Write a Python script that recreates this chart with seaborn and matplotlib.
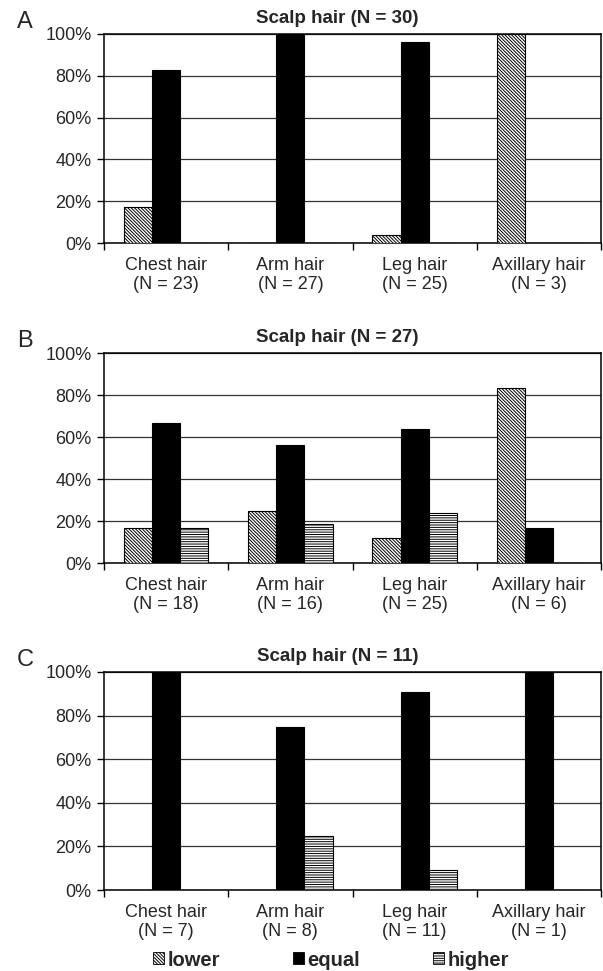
import pandas as pd
import matplotlib
matplotlib.use("Agg")
import matplotlib.pyplot as plt
import seaborn as sns
from matplotlib.patches import Patch

sns.set_theme(style="ticks")
plt.rcParams['font.family'] = ['Liberation Sans', 'DejaVu Sans']
plt.rcParams['hatch.color'] = 'black'
plt.rcParams['hatch.linewidth'] = 0.7

# data (percent of subjects)
categories = ['Chest hair', 'Arm hair', 'Leg hair', 'Axillary hair']
levels = ['lower', 'equal', 'higher']

n_A = [23, 27, 25, 3]
lower_A = [17.4, 0, 4.0, 100]
equal_A = [82.6, 100, 96.0, 0]
higher_A = [0, 0, 0, 0]

n_B = [18, 16, 25, 6]
lower_B = [16.7, 25.0, 12.0, 83.3]
equal_B = [66.7, 56.3, 64.0, 16.7]
higher_B = [16.7, 18.8, 24.0, 0]

n_C = [7, 8, 11, 1]
lower_C = [0, 0, 0, 0]
equal_C = [100, 75.0, 90.9, 100]
higher_C = [0, 25.0, 9.1, 0]

panels = [
    ('A', 'Scalp hair (N = 30)', n_A, lower_A, equal_A, higher_A),
    ('B', 'Scalp hair (N = 27)', n_B, lower_B, equal_B, higher_B),
    ('C', 'Scalp hair (N = 11)', n_C, lower_C, equal_C, higher_C),
]

colors = {'lower': 'white', 'equal': 'black', 'higher': 'white'}
hatches = {'lower': '\\' * 10, 'equal': '', 'higher': '-' * 7}

W, H = 603, 971
fig = plt.figure(figsize=(W / 100, H / 100), dpi=100)

# axes boxes in pixels: (top, bottom)
boxes = [(34, 243), (353, 563), (672, 890)]
left, right = 104, 601

for (letter, title, n, lo, eq, hi), (top, bot) in zip(panels, boxes):
    ax = fig.add_axes([left / W, (H - bot) / H, (right - left) / W, (bot - top) / H])
    rows = []
    for lev, vals in zip(levels, [lo, eq, hi]):
        for c, v in zip(categories, vals):
            rows.append({'cat': c, 'level': lev, 'value': v})
    df = pd.DataFrame(rows)
    sns.barplot(data=df, x='cat', y='value', hue='level', order=categories,
                hue_order=levels, palette=colors, saturation=1, width=0.68,
                edgecolor='black', linewidth=0.8, legend=False, ax=ax, zorder=3)
    for lev, cont in zip(levels, ax.containers):
        for bar in cont:
            bar.set_hatch(hatches[lev])

    ax.set_ylim(0, 100)
    ax.set_xlim(-0.5, 3.5)
    ax.set_yticks(range(0, 101, 20))
    ax.set_yticklabels([f'{v}%' for v in range(0, 101, 20)], fontsize=13)
    ax.set_xticks(range(4))
    ax.set_xticklabels([f'{c}\n(N = {k})' for c, k in zip(categories, n)], fontsize=13,
                       linespacing=1.15)
    ax.set_xticks([-0.5, 0.5, 1.5, 2.5, 3.5], minor=True)
    ax.tick_params(axis='x', which='major', length=0, pad=10)
    ax.tick_params(axis='x', which='minor', length=5, width=1, color='black')
    ax.tick_params(axis='y', length=5, width=1, color='black', pad=4)
    ax.yaxis.grid(True, color='#333333', linewidth=0.9)
    ax.set_axisbelow(True)
    for s in ax.spines.values():
        s.set_visible(True)
        s.set_color('black')
        s.set_linewidth(1.1)
    ax.set_xlabel('')
    ax.set_ylabel('')
    ax.set_title(title, fontsize=13.5, fontweight='bold', pad=8, x=0.47)
    fig.text(25 / W, 1 - (top - 12) / H, letter, fontsize=17, ha='center', va='center')

handles = [Patch(facecolor=colors[l], edgecolor='black', hatch=hatches[l], linewidth=0.6)
           for l in levels]
fig.legend(handles, levels, loc='center', bbox_to_anchor=(331 / W, 11 / H), ncol=3,
           frameon=False, prop={'weight': 'bold', 'size': 14.5},
           handlelength=0.55, handleheight=0.55, handletextpad=0.2, columnspacing=3.6)

fig.savefig('out.png', dpi=100)
